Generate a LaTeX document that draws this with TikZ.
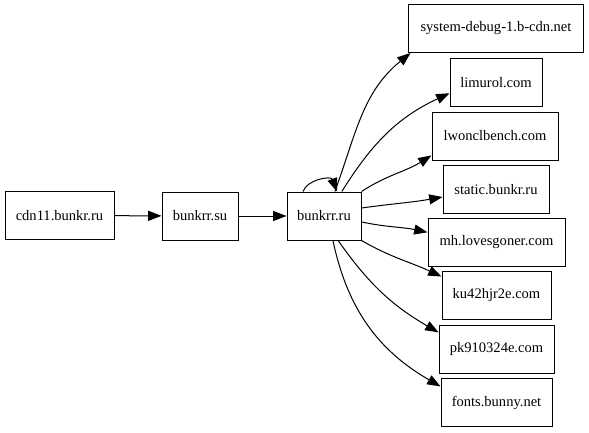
\documentclass[tikz,border=0pt]{standalone}
\usepackage{fontspec}
\setmainfont{Liberation Serif}
\newfontfamily\hostfont{Liberation Serif}
\usetikzlibrary{arrows.meta}

\tikzset{
  host/.style={draw, line width=0.75pt, minimum height=36pt, inner sep=2pt,
    font=\hostfont\fontsize{10.9}{13}\selectfont},
  arr/.style={line width=0.75pt, -{Triangle[length=10pt,width=7.5pt]}}
}

\begin{document}
\begin{tikzpicture}[x=0.75pt, y=-0.75pt]
    \useasboundingbox (0,0) rectangle (589,432);
    % chain on the left
    \node[host, minimum width=81.75pt] (cdn) at (59.5,215.5) {cdn11.bunkr.ru};
    \node[host, minimum width=57pt] (su) at (200,216) {bunkrr.su};
    \node[host, minimum width=55.5pt] (ru) at (324,216) {bunkrr.ru};
    % column on the right
    \node[host, minimum width=131.25pt] (sd) at (496,28.5) {system-debug-1.b-cdn.net};
    \node[host, minimum width=69pt] (lim) at (496,82.5) {limurol.com};
    \node[host, minimum width=94.5pt] (lw) at (495,136) {lwonclbench.com};
    \node[host, minimum width=79.5pt] (st) at (496,189.5) {static.bunkr.ru};
    \node[host, minimum width=102.75pt] (mh) at (496.5,242) {mh.lovesgoner.com};
    \node[host, minimum width=81.75pt] (ku) at (496.5,295.5) {ku42hjr2e.com};
    \node[host, minimum width=86.25pt] (pk) at (496.5,349) {pk910324e.com};
    \node[host, minimum width=83.25pt] (fn) at (496.5,402.5) {fonts.bunny.net};

    \draw[arr] (cdn) -- (su);
    \draw[arr] (su) -- (ru);
    % self loop
    \draw[arr] ([xshift=-15.75pt]ru.north) .. controls +(4,-12) and +(-6,-16) .. ([xshift=9.75pt]ru.north);
    \draw[arr] (ru.66) to[out=70, in=219] (sd.196);
    \draw[arr] (ru.54) to[out=58, in=205] (lim.193);
    \draw[arr] (ru.north east) to[out=33, in=212] (lw.197);
    \draw[arr] (ru.12) to[out=8, in=190] (st.188);
    \draw[arr] (ru.-9) to[out=-12, in=168] (mh.172);
    \draw[arr] (ru.south east) to[out=-30, in=155] (ku.161);
    \draw[arr] (ru.-60) to[out=-55, in=150] (pk.164);
    \draw[arr] (ru.-70) to[out=-78, in=150] (fn.164);
\end{tikzpicture}
\end{document}
